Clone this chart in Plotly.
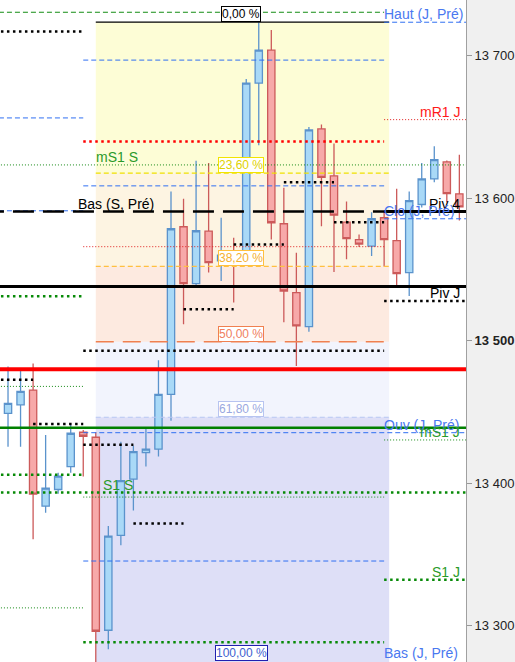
import plotly.graph_objects as go

# ---------------- data ----------------
bar_index = list(range(-1, 37))
opens = [13443.6, 13449.0, 13455.0, 13465.3, 13383.8, 13395.5, 13411.6, 13435.7, 13432.2, 13296.7,
         13363.3, 13402.8, 13421.4, 13423.8, 13462.3, 13580.0, 13540.1, 13576.9, 13556.0, 13560.0,
         13555.7, 13680.9, 13704.0, 13582.1, 13533.8, 13509.9, 13648.7, 13615.7, 13583.2, 13570.9,
         13566.4, 13586.3, 13570.2, 13547.8, 13595.6, 13613.6, 13625.5, 13603.1]
highs = [13455.0, 13481.9, 13478.8, 13484.0, 13433.8, 13407.2, 13440.8, 13437.3, 13435.7, 13369.8,
         13429.1, 13426.3, 13438.0, 13486.3, 13604.7, 13599.6, 13626.4, 13624.8, 13586.3, 13572.3,
         13683.7, 13723.6, 13718.2, 13607.3, 13561.8, 13650.1, 13651.7, 13638.4, 13597.7, 13574.6,
         13590.2, 13590.7, 13606.6, 13604.7, 13624.8, 13636.5, 13626.5, 13630.6]
lows = [13435.0, 13425.6, 13425.6, 13360.5, 13379.2, 13392.5, 13407.2, 13404.6, 13270.0, 13283.4,
        13356.3, 13380.8, 13411.6, 13418.6, 13443.8, 13511.6, 13538.9, 13547.8, 13541.9, 13526.8,
        13553.6, 13637.2, 13571.1, 13513.0, 13482.3, 13506.2, 13580.4, 13548.2, 13557.1, 13565.7,
        13559.4, 13552.0, 13538.4, 13531.4, 13593.5, 13611.2, 13597.2, 13584.4]
closes = [13449.2, 13456.0, 13464.4, 13392.3, 13396.5, 13404.9, 13435.0, 13432.9, 13296.0, 13362.8,
          13401.8, 13422.1, 13423.8, 13462.3, 13578.6, 13540.1, 13577.2, 13554.8, 13560.0, 13556.0,
          13680.9, 13704.0, 13582.8, 13534.9, 13510.4, 13648.0, 13614.7, 13588.1, 13571.6, 13567.8,
          13585.6, 13570.9, 13547.1, 13598.4, 13613.6, 13627.1, 13603.3, 13594.0]

# Fibonacci retracement between swing high and swing low
fib_high = 13723.6
fib_low = 13274.8
fib_start_bar = 7
fib_end_bar = 30.4
fib_ratios = [0.0, 0.236, 0.382, 0.5, 0.618, 1.0]
fib_labels = ["0,00 %", "23,60 %", "38,20 %", "50,00 %", "61,80 %", "100,00 %"]

# horizontal levels: value, first bar, last bar, style key
level_values = [13730.6, 13723.6, 13717.0, 13697.0, 13656.4, 13655.2, 13639.8, 13623.4,
                13611.2, 13608.7, 13591.2, 13590.7, 13590.7, 13585.6, 13583.2, 13567.6,
                13566.0, 13538.0, 13531.2, 13527.9, 13522.1, 13492.9, 13480.0, 13472.5,
                13467.9, 13441.5, 13438.9, 13435.4, 13430.3, 13427.0, 13405.8, 13393.4,
                13390.2, 13371.7, 13345.3, 13332.2, 13312.4, 13288.3]
level_from = [-2, 30, -2, 6, -2, 30, 6, -2,
              22, 6, -2, -2, 30, 30, 26, 18,
              6, -2, -2, 30, 14, 6, -2, -2,
              -2, 2, -2, 6, 30, 6, -2, -2,
              6, 10, 6, 30, -2, 6]
level_to = [30, 38, 6, 30, 6, 38, 30, 38,
            26, 30, 6, 30, 38, 38, 30, 22,
            30, 38, 6, 38, 18, 30, 38, 2,
            6, 6, 38, 38, 38, 10, 6, 38,
            30, 14, 30, 38, 6, 30]
level_style = ["green_dash", "blue_dash", "black_dots", "blue_dash", "blue_dash", "red_thin", "red_dots", "green_thin",
               "black_dots", "blue_dash", "blue_dash", "black_longdash", "black_solid", "blue_dash", "black_dots", "black_dots",
               "red_thin", "black_solid", "green_dots", "black_dots", "black_dots", "black_dots", "red_solid", "black_dots",
               "green_thin", "black_dots", "green_solid", "blue_dash", "green_thin", "black_dots", "green_dots", "green_dots",
               "green_thin", "black_dots", "blue_dash", "green_dots", "green_thin", "green_dots"]

# level labels
label_texts = ["Haut (J, Pré)", "mR1 J", "mS1 S", "Bas (S, Pré)", "Piv 4", "Clo (J, Pré)",
               "Piv J", "Ouv (J, Pré)", "mS1 J", "S1 S", "S1 J", "Bas (J, Pré)"]
label_values = [13723.6, 13655.2, 13623.4, 13590.7, 13590.7, 13585.6,
                13527.9, 13435.4, 13430.3, 13393.4, 13332.2, 13274.8]
label_bars = [29.85, 36.2, 6.85, 5.45, 36.25, 29.85, 36.25, 29.85, 36.25, 7.45, 36.25, 29.85]
label_kind = ["blue_l", "red_r", "green_l", "black_l", "black_r", "blue_l",
              "black_r", "blue_l", "green_r", "green_l", "green_r", "blue_l"]

y_ticks = [13300, 13400, 13500, 13600, 13700]
y_ticktext = ["13 300", "13 400", "<b>13 500</b>", "13 600", "13 700"]

# ---------------- styles ----------------
FONT = "Arial, Liberation Sans, sans-serif"
line_styles = {
    "green_dash": dict(color="#138c13", width=1, dash="5px,3px"),
    "blue_dash": dict(color="#2f6ff2", width=1, dash="5px,3px"),
    "black_dots": dict(color="#000000", width=2.5, dash="2.5px,3.5px"),
    "green_dots": dict(color="#078a07", width=2.5, dash="2.5px,3.5px"),
    "red_dots": dict(color="#ff0000", width=2.5, dash="2.5px,3.5px"),
    "green_thin": dict(color="#178a17", width=1, dash="1px,2px"),
    "red_thin": dict(color="#e01c1c", width=1, dash="1px,2px"),
    "black_longdash": dict(color="#000000", width=2.5, dash="21px,9px"),
    "black_solid": dict(color="#000000", width=3),
    "red_solid": dict(color="#ff0000", width=4),
    "green_solid": dict(color="#008000", width=2.5),
}
label_styles = {
    "blue_l": ("#4a78f0", "left"), "red_r": ("#ff1a1a", "right"),
    "green_l": ("#2a9a2a", "left"), "green_r": ("#2a9a2a", "right"),
    "black_l": ("#000000", "left"), "black_r": ("#000000", "right"),
}
zone_colors = ["#fdfdd6", "#fdf4e2", "#fdeae0", "#f2f4fd", "#dedff7"]
fib_line_styles = [
    dict(color="#000000", width=1.2),
    dict(color="#f0e000", width=1.2, dash="5px,3px"),
    dict(color="#ffc040", width=1.2, dash="5px,3px"),
    dict(color="#f08050", width=1.5, dash="18px,9px"),
    dict(color="#b8c6f2", width=1.2, dash="5px,3px"),
    dict(color="rgba(0,0,0,0)", width=0),
]
fib_box_colors = [("#000000", "#000000"), ("#f2e400", "#e0d200"), ("#ffc040", "#f5b030"),
                  ("#f08050", "#f08060"), ("#b8c4f0", "#9aa8e0"), ("#2020b0", "#4060d0")]

# ---------------- figure ----------------
fig = go.Figure()
fig.add_trace(go.Candlestick(
    x=bar_index, open=opens, high=highs, low=lows, close=closes,
    increasing=dict(fillcolor="#a9d9f7", line=dict(color="#5b93cc", width=1.3)),
    decreasing=dict(fillcolor="#f7a9a9", line=dict(color="#cc5a5a", width=1.3)),
    whiskerwidth=0, showlegend=False, hoverinfo="skip",
))

fib_levels = [fib_high - r * (fib_high - fib_low) for r in fib_ratios]
shapes = []
for i in range(len(fib_levels) - 1):
    shapes.append(dict(type="rect", xref="x", yref="y", x0=fib_start_bar, x1=fib_end_bar,
                       y0=fib_levels[i + 1] - 3, y1=fib_levels[i], fillcolor=zone_colors[i],
                       line=dict(width=0), layer="below"))
for lv, st in zip(fib_levels, fib_line_styles):
    if st["width"] > 0:
        shapes.append(dict(type="line", xref="x", yref="y", x0=fib_start_bar, x1=fib_end_bar,
                           y0=lv, y1=lv, line=st, layer="above"))
for v, a, b, s in zip(level_values, level_from, level_to, level_style):
    shapes.append(dict(type="line", xref="x", yref="y", x0=a, x1=b, y0=v, y1=v,
                       line=line_styles[s], layer="above"))

annotations = []
for lv, txt, (bc, tc) in zip(fib_levels, fib_labels, fib_box_colors):
    annotations.append(dict(x=18.6, y=lv, xref="x", yref="y", text=txt, showarrow=False,
                            xanchor="center", yanchor="bottom", bgcolor="#ffffff",
                            bordercolor=bc, borderwidth=1, borderpad=0,
                            font=dict(family=FONT, size=12, color=tc)))
for txt, v, b, k in zip(label_texts, label_values, label_bars, label_kind):
    col, anc = label_styles[k]
    annotations.append(dict(x=b, y=v, xref="x", yref="y", text=txt, showarrow=False,
                            xanchor=anc, yanchor="bottom", yshift=-2,
                            font=dict(family=FONT, size=14, color=col)))

fig.update_layout(
    width=515, height=662,
    margin=dict(l=0, r=49, t=0, b=0),
    paper_bgcolor="#f0f0f0", plot_bgcolor="#ffffff",
    showlegend=False, boxgap=0.17,
    shapes=shapes, annotations=annotations,
    xaxis=dict(range=[-0.64, 36.53], showgrid=False, zeroline=False, showticklabels=False,
               ticks="", rangeslider=dict(visible=False), fixedrange=True),
    yaxis=dict(range=[13274.4, 13739.2], side="right", showgrid=False, zeroline=False,
               tickvals=y_ticks, ticktext=y_ticktext, ticks="outside", ticklen=5,
               tickcolor="#999999", showline=True, linecolor="#a0a0a0", linewidth=1,
               tickfont=dict(family=FONT, size=13, color="#222222"), fixedrange=True),
)
fig.write_html("out.html", config={"displayModeBar": False},
               post_script="document.body.style.margin='0px';document.body.style.overflow='hidden';")
